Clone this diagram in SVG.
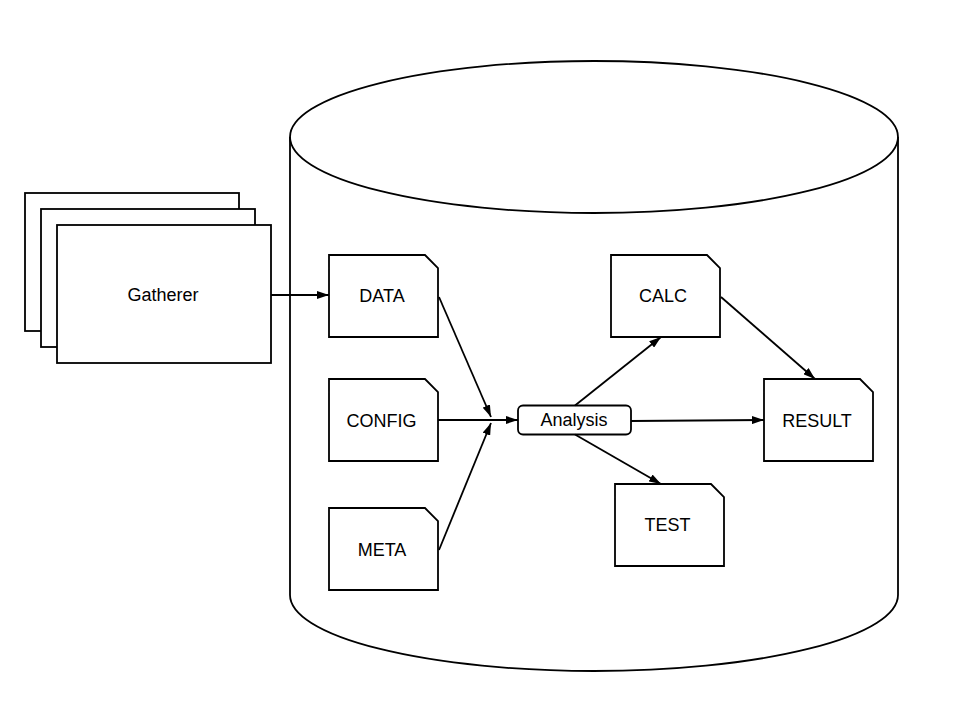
<svg xmlns="http://www.w3.org/2000/svg" width="960" height="720" viewBox="0 0 960 720">
<style>
.s{fill:#fff;stroke:#000;stroke-width:1.8}
.c{fill:none;stroke:#000;stroke-width:1.8}
text{font-family:"Liberation Sans",Arial,sans-serif;font-size:18px;fill:#000;text-anchor:middle}
</style>
<defs>
<marker id="a" markerWidth="12" markerHeight="8" refX="12" refY="4" orient="auto" markerUnits="userSpaceOnUse">
<path d="M0,0 L12,4 L0,8 z" fill="#000"/>
</marker>
</defs>
<rect width="960" height="720" fill="#fff"/>
<g id="storage">
<path class="s" d="M290,137 A304,76 0 0 1 898,137 L898,595 A304,76 0 0 1 290,595 Z"/>
<path class="c" d="M290,137 A304,76 0 0 0 898,137"/>
</g>
<g id="gatherer">
<rect class="s" x="25" y="193" width="214" height="138"/>
<rect class="s" x="41" y="209" width="214" height="138"/>
<rect class="s" x="57" y="225" width="214" height="138"/>
<text x="163" y="301">Gatherer</text>
</g>
<g id="data">
<path class="s" d="M329,255 h96 l13,13 v69 h-109 z"/>
<text x="382" y="302">DATA</text>
</g>
<g id="config">
<path class="s" d="M329,379 h96 l13,13 v69 h-109 z"/>
<text x="381.5" y="427">CONFIG</text>
</g>
<g id="meta">
<path class="s" d="M329,508 h96 l13,13 v69 h-109 z"/>
<text x="382" y="556">META</text>
</g>
<g id="calc">
<path class="s" d="M611,255 h96 l13,13 v69 h-109 z"/>
<text x="663" y="302">CALC</text>
</g>
<g id="result">
<path class="s" d="M764,379 h96 l13,13 v69 h-109 z"/>
<text x="817" y="427">RESULT</text>
</g>
<g id="test">
<path class="s" d="M615,484 h96 l13,13 v69 h-109 z"/>
<text x="667.5" y="531">TEST</text>
</g>
<g id="analysis">
<rect class="s" x="518" y="405.5" width="113" height="29" rx="5"/>
<text x="574" y="426">Analysis</text>
</g>
<g id="connectors">
<path class="c" d="M271,295 L329,295" marker-end="url(#a)"/>
<path class="c" d="M439,297 L491,417" marker-end="url(#a)"/>
<path class="c" d="M439,550 L491,423" marker-end="url(#a)"/>
<path class="c" d="M438,420 L518,420" marker-end="url(#a)"/>
<path class="c" d="M575,405.5 L661,337" marker-end="url(#a)"/>
<path class="c" d="M631,421 L764,420" marker-end="url(#a)"/>
<path class="c" d="M575,434.5 L661,484" marker-end="url(#a)"/>
<path class="c" d="M721,297 L815,379" marker-end="url(#a)"/>
</g>
</svg>
